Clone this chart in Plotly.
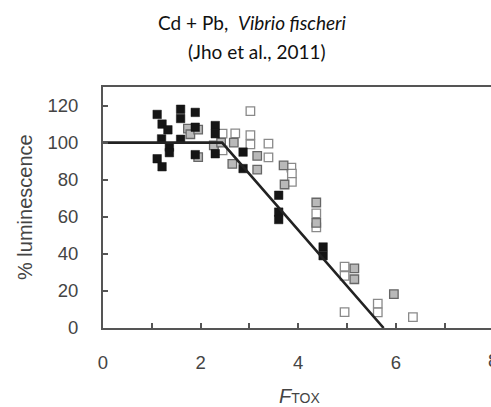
import plotly.graph_objects as go

# Data
x_black = [1.11, 1.21, 1.33, 1.20, 1.36, 1.36, 1.11, 1.21, 1.59, 1.59, 1.59,
           1.89, 1.89, 1.89, 2.30, 2.30, 2.30, 2.87, 2.87, 3.60, 3.60, 3.60, 4.51, 4.51]
y_black = [115.2, 110.0, 106.9, 102.0, 97.6, 94.6, 91.3, 87.0, 118.0, 113.0, 101.8,
           116.3, 108.3, 93.5, 109.2, 104.8, 94.0, 94.9, 86.0, 71.6, 62.5, 58.5, 43.7, 39.0]

x_grey = [1.74, 1.79, 1.95, 1.95, 2.27, 2.42, 2.68, 2.65, 3.16, 3.16, 3.70, 3.72,
          4.37, 4.37, 5.15, 5.15, 5.96]
y_grey = [107.5, 104.5, 107.0, 92.2, 98.5, 100.0, 100.0, 88.5, 92.8, 85.4, 87.7, 77.4,
          67.7, 56.7, 32.2, 26.3, 18.3]

x_open = [3.02, 2.45, 2.45, 2.71, 3.02, 3.02, 3.39, 3.39, 3.86, 3.87, 3.87, 4.37,
          4.37, 4.95, 4.95, 4.95, 5.63, 5.63, 6.35]
y_open = [117.0, 104.8, 95.8, 105.0, 104.0, 99.0, 99.5, 92.0, 86.5, 83.3, 78.8, 61.8,
          54.3, 33.1, 28.1, 8.6, 13.1, 8.4, 5.9]

x_fit = [0, 2.44, 5.75]
y_fit = [100, 100, 0]

x_tickvals = [0, 1, 2, 3, 4, 5, 6, 7]
x_ticktext = ["0", "", "2", "", "4", "", "6", ""]
y_tickvals = [0, 20, 40, 60, 80, 100, 120]

fig = go.Figure()
fig.add_trace(go.Scatter(x=x_open, y=y_open, mode="markers",
                         marker=dict(symbol="square", size=8.5, color="white",
                                     line=dict(color="#8a8a8a", width=1.3)),
                         showlegend=False, cliponaxis=False))
fig.add_trace(go.Scatter(x=x_grey, y=y_grey, mode="markers",
                         marker=dict(symbol="square", size=8.5, color="#b9b9b9",
                                     line=dict(color="#666666", width=1.3)),
                         showlegend=False, cliponaxis=False))
fig.add_trace(go.Scatter(x=x_black, y=y_black, mode="markers",
                         marker=dict(symbol="square", size=8.5, color="#151515",
                                     line=dict(color="#151515", width=0.5)),
                         showlegend=False, cliponaxis=False))
fig.add_trace(go.Scatter(x=x_fit, y=y_fit, mode="lines",
                         line=dict(color="#222222", width=2.6),
                         showlegend=False))

tick_font = dict(family="Liberation Sans, Arial, sans-serif", size=18.5, color="#444444")

fig.update_layout(
    width=491, height=407,
    margin=dict(l=103, r=0, t=87, b=79),
    paper_bgcolor="white", plot_bgcolor="white",
    xaxis=dict(range=[0, 7.95], tickvals=x_tickvals, ticktext=x_ticktext,
               ticks="inside", ticklen=5, tickwidth=1.5, tickcolor="#555555",
               showline=True, linecolor="#555555", linewidth=2, mirror=True,
               showgrid=False, zeroline=False, tickfont=tick_font,
               ticklabelstandoff=17),
    yaxis=dict(range=[0, 130], tickvals=y_tickvals,
               ticks="inside", ticklen=5, tickwidth=1.5, tickcolor="#555555",
               showline=True, linecolor="#555555", linewidth=2,
               showgrid=False, zeroline=False, tickfont=tick_font,
               ticklabelstandoff=19),
)

def py(p):
    return (328 - p) / 241.0

def px(p):
    return (p - 103) / 388.0

title_font = "Lato, Open Sans, sans-serif"
fig.add_annotation(text="Cd + Pb,  <i>Vibrio fischeri</i>", xref="paper", yref="paper",
                   x=px(252), y=py(22), xanchor="center", yanchor="middle",
                   showarrow=False, font=dict(family=title_font, size=19, color="#111111"))
fig.add_annotation(text="(Jho et al., 2011)", xref="paper", yref="paper",
                   x=px(257), y=py(51), xanchor="center", yanchor="middle",
                   showarrow=False, font=dict(family=title_font, size=19, color="#111111"))
fig.add_annotation(text="% luminescence", xref="paper", yref="paper",
                   x=px(25), y=py(207), xanchor="center", yanchor="middle", textangle=-90,
                   showarrow=False, font=dict(family="Liberation Sans, Arial, sans-serif",
                                              size=20, color="#444444"))
fig.add_annotation(text="<i>F</i><span style='font-size:14px'>TOX</span>",
                   xref="paper", yref="paper",
                   x=px(299), y=py(396), xanchor="center", yanchor="middle",
                   showarrow=False, font=dict(family="Liberation Sans, Arial, sans-serif",
                                              size=20, color="#444444"))
fig.add_annotation(text="8", xref="paper", yref="paper",
                   x=px(493), y=py(360), xanchor="center", yanchor="middle",
                   showarrow=False, font=tick_font)

fig.write_html("out.html", config={"displayModeBar": False},
               post_script="document.body.style.margin='0px';document.body.style.overflow='hidden';")
